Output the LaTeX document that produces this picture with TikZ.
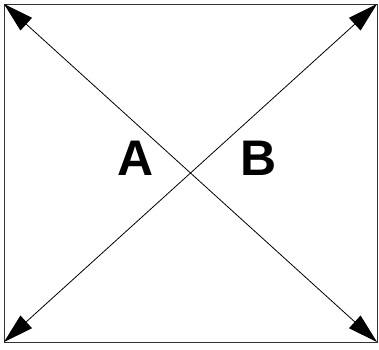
\documentclass[tikz,border=0pt]{standalone}
\usepackage{fontspec}
\setmainfont{Liberation Sans}
\usetikzlibrary{arrows.meta}
\begin{document}
\begin{tikzpicture}[x=1pt,y=-1pt,
  frame/.style={draw=black!80,line width=1pt},
  diag/.style={draw=black,line width=0.8pt,{Triangle[length=30pt,width=17pt]}-{Triangle[length=30pt,width=17pt]}},
  letter/.style={font=\fontsize{50}{50}\selectfont\bfseries,inner sep=0pt}]
\useasboundingbox (0,0) rectangle (379,349);
\coordinate (tl) at (4,4);
\coordinate (tr) at (377,4);
\coordinate (bl) at (4,342);
\coordinate (br) at (377,342);
\draw[frame] (tl) rectangle (br);
\draw[diag] (tl) -- (br);
\draw[diag] (bl) -- (tr);
\node[letter] (A) at (135.5,158) {A};
\node[letter] (B) at (259,158) {B};
\end{tikzpicture}
\end{document}
